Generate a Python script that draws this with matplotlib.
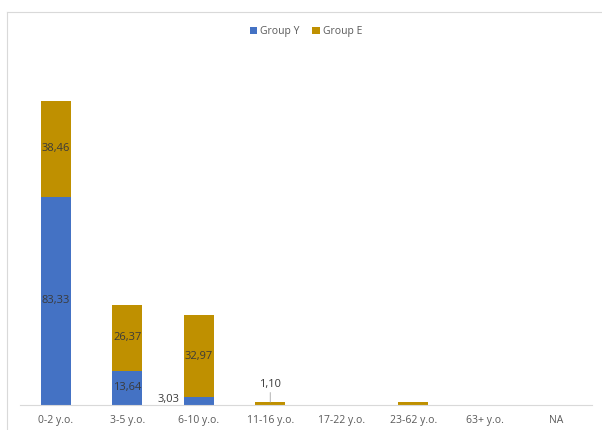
import matplotlib
matplotlib.use("Agg")
import matplotlib.pyplot as plt
from matplotlib.lines import Line2D

categories = ["0-2 y.o.", "3-5 y.o.", "6-10 y.o.", "11-16 y.o.", "17-22 y.o.", "23-62 y.o.", "63+ y.o.", "NA"]
group_y = [83.33, 13.64, 3.03, 0, 0, 0, 0, 0]
group_e = [38.46, 26.37, 32.97, 1.10, 0, 1.10, 0, 0]
labels_y = ["83,33", "13,64", "3,03", None, None, None, None, None]
labels_e = ["38,46", "26,37", "32,97", "1,10", None, None, None, None]

BLUE = "#4472C4"
GOLD = "#BF9000"
TEXT = "#3a3a3a"
FS = 8

plt.rcParams["font.family"] = ["Open Sans", "DejaVu Sans"]

fig = plt.figure(figsize=(6.02, 4.30), dpi=100)
ax = fig.add_axes([20 / 602, 25 / 430, 572 / 602, 350 / 430])

x = list(range(len(categories)))
w = 0.42
ax.bar(x, group_y, width=w, color=BLUE, label="Group Y")
ax.bar(x, group_e, width=w, bottom=group_y, color=GOLD, label="Group E")

ax.set_xlim(-0.5, len(categories) - 0.5)
ax.set_ylim(0, 140)

# value labels centred in each segment
for i in x:
    if labels_y[i] and group_y[i] > 8:
        ax.text(i, group_y[i] / 2, labels_y[i], ha="center", va="center", fontsize=FS, color=TEXT)
    if labels_e[i] and group_e[i] > 8:
        ax.text(i, group_y[i] + group_e[i] / 2, labels_e[i], ha="center", va="center", fontsize=FS, color=TEXT)

# small segments get labels placed outside the bar
ax.annotate(labels_y[2], xy=(2 - w / 2, group_y[2] / 2), xytext=(-3, 1), textcoords="offset points",
            ha="right", va="center", fontsize=FS, color=TEXT)
ax.annotate(labels_e[3], xy=(3, group_y[3] + group_e[3]), xytext=(0, 9), textcoords="offset points",
            ha="center", va="bottom", fontsize=FS, color=TEXT,
            arrowprops=dict(arrowstyle="-", color="#a6a6a6", lw=0.6, shrinkA=0, shrinkB=0))

for s in ["top", "right", "left"]:
    ax.spines[s].set_visible(False)
ax.spines["bottom"].set_color("#d9d9d9")
ax.spines["bottom"].set_linewidth(0.8)
ax.set_yticks([])
ax.set_xticks(x)
ax.set_xticklabels(categories, fontsize=7.5, color="#595959")
ax.tick_params(axis="x", length=0, pad=7)

ax.legend(loc="upper center", bbox_to_anchor=(0.5, (430 - 17 - 25) / 350), ncol=2, frameon=False,
          fontsize=7.5, handlelength=0.7, handleheight=0.7, handletextpad=0.3, columnspacing=1.2,
          labelcolor="#595959")

# chart area border (top and left edges)
fig.add_artist(Line2D([7 / 602, 1], [1 - 12 / 430, 1 - 12 / 430], color="#d9d9d9", lw=0.8))
fig.add_artist(Line2D([7 / 602, 7 / 602], [0, 1 - 12 / 430], color="#d9d9d9", lw=0.8))

fig.savefig("out.png", dpi=100)
